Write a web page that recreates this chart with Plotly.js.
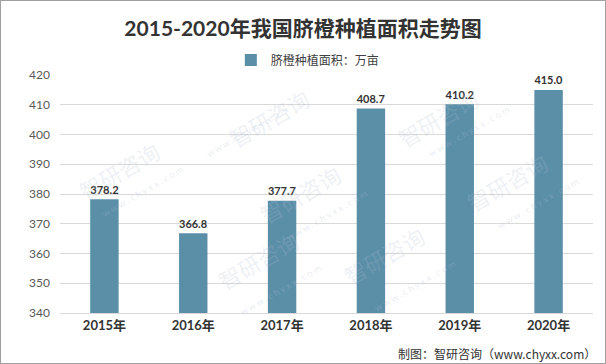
<!DOCTYPE html>
<html><head><meta charset="utf-8">
<script src="https://cdn.plot.ly/plotly-3.0.1.min.js"></script>
<style>html,body{margin:0;padding:0;background:#fff}#c{width:606px;height:364px;box-sizing:border-box;border:1px solid #a0a0a0}</style>
</head><body><div id="c"></div>
<script>
const years = ['2015年','2016年','2017年','2018年','2019年','2020年'];
const area = [378.2, 366.8, 377.7, 408.7, 410.2, 415.0];
const seriesName = '脐橙种植面积：万亩';
const titleText = '2015-2020年我国脐橙种植面积走势图';
const sourceText = '制图：智研咨询（www.chyxx.com）';
const FONT = 'Lato, "Noto Sans CJK SC", sans-serif';
const BAR = '#5b8fa8';

const wm = [];
const wmPos = [[0.30,0.98],[0.80,0.98],[0.02,0.60],[0.45,0.50],[0.93,0.55],[0.28,0.06],[0.70,0.08]];
wmPos.forEach(p=>{
  wm.push({xref:'paper',yref:'paper',x:p[0],y:p[1],text:'智研咨询',showarrow:false,textangle:-30,
    font:{family:'"Noto Sans CJK SC"',size:22,color:'rgba(175,190,210,0.22)'}});
  wm.push({xref:'paper',yref:'paper',x:p[0]+0.05,y:p[1]-0.09,text:'w w w . c h y x x . c o m',showarrow:false,textangle:-30,
    font:{family:FONT,size:9,color:'rgba(175,190,210,0.3)'}});
});

Plotly.newPlot('c',[{
  type:'bar', x:years, y:area, name:seriesName, marker:{color:BAR},
  width:0.32, text:area.map(v=>v.toFixed(1)), textposition:'outside',
  textfont:{family:FONT,size:13,color:'#333'}, texttemplate:'<b>%{text}</b>', cliponaxis:false,
  showlegend:true
}],{
  width:604, height:362,
  margin:{l:59,r:12,t:74,b:50},
  paper_bgcolor:'#fff', plot_bgcolor:'#fff',
  title:{text:'<b>'+titleText+'</b>', x:0.5, xanchor:'center', y:0.925, yanchor:'middle',
    font:{family:FONT,size:21,color:'#333'}},
  showlegend:true,
  legend:{orientation:'h', x:0.465, xanchor:'center', y:1.063, yanchor:'middle', itemwidth:30,
    font:{family:'"Noto Sans CJK SC", sans-serif',size:12,color:'#404040'}},
  xaxis:{type:'category', tickfont:{family:FONT,size:13,color:'#333'}, tickprefix:'<b>', ticksuffix:'</b>',
    showline:true, linecolor:'#d9d9d9', ticks:'', showgrid:false},
  yaxis:{range:[340,420], dtick:10, tick0:340, tickfont:{family:FONT,size:12,color:'#595959'},
    gridcolor:'#d9d9d9', zeroline:false, showline:false, ticks:'', ticklabelstandoff:9},
  annotations:[...wm,{xref:'paper',yref:'paper',x:1.01,y:-0.172,xanchor:'right',yanchor:'middle',showarrow:false,
    text:sourceText, font:{family:'"Noto Sans CJK SC", sans-serif',size:12,color:'#333'}}]
},{displayModeBar:false,staticPlot:true});
</script></body></html>
